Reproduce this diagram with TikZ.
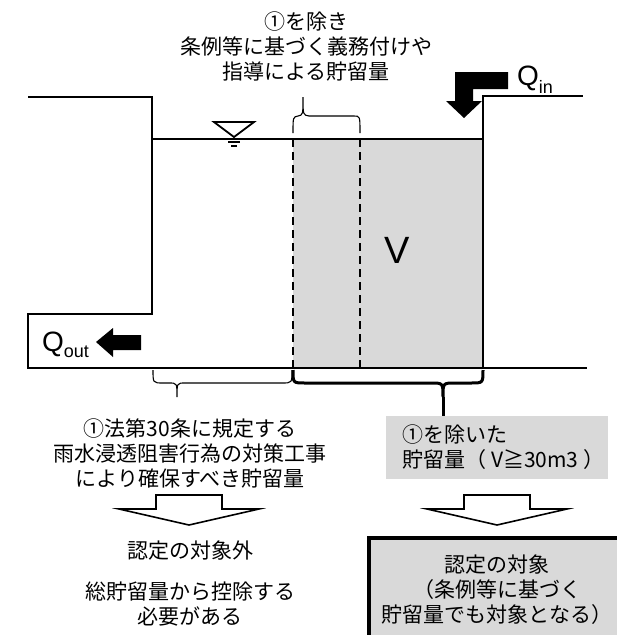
\documentclass[tikz,border=0pt]{standalone}
\usepackage{fontspec}
\setmainfont{Liberation Sans}
\newfontfamily\jp{Noto Sans CJK JP}
\usetikzlibrary{positioning,calc}
\definecolor{fillg}{HTML}{D9D9D9}

\begin{document}
\begin{tikzpicture}[
  x=1pt, y=-1pt,
  wall/.style={line width=1.8pt},
  dsh/.style={dash pattern=on 8pt off 5pt, line width=1.8pt},
  brc/.style={line width=1.1pt},
  brcb/.style={line width=3pt},
  note/.style={font=\jp\fontsize{21}{25}\selectfont, align=center, inner sep=0pt},
  qlab/.style={font=\fontsize{28}{28}\selectfont, inner sep=0pt},
  hollow/.pic={\draw[line width=1.6pt, fill=white] (-33,0) -- (33,0) -- (33,14) -- (70,14) -- (0,30) -- (-70,14) -- (-33,14) -- cycle;},
]
\useasboundingbox (0,0) rectangle (617,635);
\clip (0,0) rectangle (617,635);

% basin
\fill[fillg] (293,139) rectangle (483,368);
\draw[dsh] (293,139) -- (293,368);
\draw[dsh] (360,139) -- (360,368);
\draw[wall] (28,97) -- (152,97) -- (152,314) -- (28,314) -- (28,368) -- (587,368);
\draw[wall] (483,368) -- (483,96) -- (583,96);
\draw[wall] (152,139) -- (483,139);

% water level mark
\draw[line width=1.8pt] (214,122) -- (254,122) -- (234,137) -- cycle;
\draw[line width=1.3pt] (228,142) -- (240,142) (231,146) -- (237,146);

% inflow / outflow
\fill (508,72) -- (455,72) -- (455,101) -- (446,101) -- (464,118) -- (482,101) -- (473,101) -- (473,89) -- (508,89) -- cycle;
\node[qlab, anchor=base west] (qin) at (517,85) {Q\raisebox{-8pt}{\fontsize{18}{18}\selectfont in}};
\fill (96,342) -- (113,328) -- (113,335) -- (141,335) -- (141,350) -- (113,350) -- (113,357) -- cycle;
\node[qlab, anchor=base west] (qout) at (42,351) {Q\raisebox{-6pt}{\fontsize{18}{18}\selectfont out}};
\node[font=\fontsize{38}{38}\selectfont, inner sep=0pt] (vol) at (397,250) {V};

% braces
\draw[brc] (293,133) .. controls (293,117) .. (298,116) .. controls (303,115) .. (303,97)
  .. controls (303,115) .. (309,116) -- (354,116) .. controls (360,116) .. (360,133);
\draw[brc] (153,370) .. controls (153,383) .. (163,383) -- (169,383) .. controls (177,383) .. (177,397)
  .. controls (177,383) .. (185,383) -- (282,383) .. controls (292,383) .. (292,370);
\coordinate (rtip) at (443,397);
\draw[brcb] (293,370) .. controls (293,383) .. (305,383) -- (431,383) .. controls (443,383) .. (rtip)
  .. controls (443,383) .. (455,383) -- (471,383) .. controls (483,383) .. (483,370);

% texts
\node[note] (excl) at (306,46) {①を除き\\条例等に基づく義務付けや\\指導による貯留量};
\node[note] (law) at (190,453) {①法第30条に規定する\\雨水浸透阻害行為の対策工事\\により確保すべき貯留量};
\node[note] (outside) at (190,551) {認定の対象外};
\node[note] (deduct) at (190,604) {総貯留量から控除する\\必要がある};
\node[fill=fillg, minimum width=222pt, minimum height=63pt, inner sep=0pt] (rest) at (497,447.5) {};
\node[note, align=left, anchor=west] (resttxt) at ([xshift=16pt]rest.west) {①を除いた\\貯留量（\hspace{5pt}V≧30m3\hspace{5pt}）};
\node[note, fill=fillg, draw, line width=3.5pt, minimum width=256pt, minimum height=104pt] (target) at (497,590) {認定の対象\\（条例等に基づく\\貯留量でも対象となる）};

\draw[brcb] (rtip) -- (rtip |- rest.north);

% result arrows
\pic at (189,495) {hollow};
\pic at (497,495) {hollow};

\end{tikzpicture}
\end{document}
